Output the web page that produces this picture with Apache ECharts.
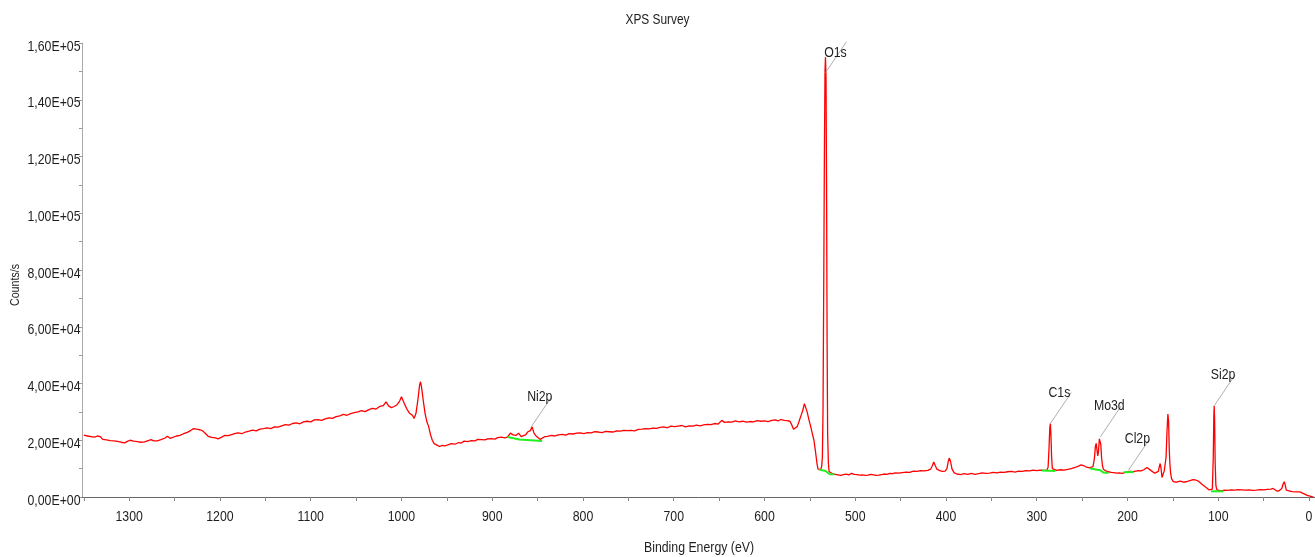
<!DOCTYPE html>
<html>
<head>
<meta charset="utf-8">
<title>XPS Survey</title>
<script src="https://cdn.jsdelivr.net/npm/echarts@6/dist/echarts.min.js"></script>
<style>
  html, body { margin: 0; padding: 0; background: #fff; }
  #chart { width: 1315px; height: 557px; }
</style>
</head>
<body>
<div id="chart"></div>
<script>
// Survey spectrum: [binding energy (eV), counts/s]
const spectrum = [
  [1350,21800],[1346,21500],[1342,21300],[1338,21100],[1335,21500],[1332,21300],[1329,20300],[1325,20100],
  [1321,19900],[1317,19800],[1313,19600],[1309,19300],[1305,19100],[1302,19600],[1299,20000],[1295,19700],
  [1291,19500],[1287,19300],[1283,19400],[1279,19900],[1276,20200],[1273,19800],[1269,19800],[1265,20200],
  [1261,20700],[1258,21400],[1255,20700],[1252,21000],[1248,21500],[1244,21700],[1240,22300],[1236,22800],
  [1232,23500],[1229,24100],[1226,23900],[1222,23700],[1219,23300],[1216,22400],[1213,21400],[1209,21000],
  [1205,20800],[1202,20500],[1198,21100],[1195,21700],[1191,21600],[1187,22000],[1183,22400],[1180,22600],
  [1176,22300],[1172,22900],[1168,23200],[1164,23600],[1160,23300],[1156,23900],[1152,24100],[1148,24400],
  [1144,24100],[1140,24700],[1136,24600],[1132,25100],[1128,25500],[1124,25300],[1120,25900],[1116,26100],
  [1112,25800],[1108,26500],[1104,26700],[1100,26500],[1096,27200],[1092,27300],[1088,27000],[1084,27500],
  [1080,27900],[1076,27700],[1072,28300],[1068,28600],[1064,29100],[1060,28800],[1056,29400],[1052,29700],
  [1048,30000],[1044,30400],[1040,30100],[1036,30800],[1032,31200],[1028,31000],[1024,31900],[1020,32200],
  [1017,33500],[1014,32000],[1011,31500],[1008,31900],[1005,32500],[1002,33800],[1000,35300],[997,33000],
  [994,31000],[991,29500],[988,28800],[986,27700],[984,29500],[982,34000],[980,39500],[979,40600],
  [978,39000],[976,34000],[974,29500],[972,26500],[970,24800],[968,22000],[966,20000],[964,18800],
  [961,18300],[958,17800],[955,18200],[952,18000],[948,18500],[945,18800],[941,18600],[937,19200],
  [934,19000],[931,19700],[927,19500],[923,19900],[919,19800],[916,20300],[912,20200],[908,20100],
  [905,20500],[901,20600],[897,20400],[894,20900],[890,21100],[886,20800],[883,21200],[880,22500],
  [877,21900],[874,21700],[871,22500],[868,21300],[866,20900],[863,22000],[861,22900],[858,23400],
  [856,24700],[854,22500],[852,21600],[850,20900],[847,20300],[845,20700],[842,21300],[839,21400],
  [835,21700],[831,21500],[827,21900],[823,22100],[819,21800],[815,22300],[811,22200],[807,22500],
  [803,22600],[799,22300],[795,22700],[791,22600],[787,23000],[783,22900],[779,22700],[775,23100],
  [771,23000],[767,22900],[763,23300],[759,23200],[755,23500],[751,23400],[747,23500],[743,23300],
  [739,23800],[735,23900],[731,24100],[727,24000],[723,24300],[719,24200],[715,24500],[711,24700],
  [707,24400],[703,25000],[699,24800],[695,25000],[691,25200],[687,24700],[683,25100],[679,25000],
  [675,25300],[671,25100],[667,25400],[663,25600],[659,25500],[655,25900],[651,25700],[647,27000],
  [644,26300],[640,26500],[636,26400],[632,26800],[628,26500],[624,26700],[620,26400],[616,26600],
  [612,26500],[608,26900],[604,26700],[600,26800],[596,26600],[592,27000],[588,27200],[585,26800],
  [582,27300],[578,27000],[575,26900],[572,26700],[570,25500],[568,23900],[566,24300],[564,24800],
  [562,26500],[560,28500],[558,30300],[556,32900],[554.5,33200],[553,30000],[551,27200],[549,24700],
  [547,22000],[545.5,20000],[544,16500],[543,14000],[542,11500],[541,9800],[539.5,9600],[538,9700],
  [537,10800],[536.2,14000],[535.5,30000],[534.7,75000],[534,120000],[533.3,150000],[532.8,155000],
  [532.2,148000],[531.6,110000],[531,55000],[530.4,22000],[529.6,12000],[528.8,9000],[527.5,8500],
  [525,8200],[522,8000],[519,7800],[516,7600],[513,7900],[510,8100],[507,7800],[504,8300],
  [501,8000],[498,7900],[495,7700],[492,7800],[489,7600],[486,7700],[483,8000],[480,7800],
  [477,7600],[474,7700],[471,7900],[468,8100],[465,8000],[462,8300],[459,8200],[456,8500],
  [452,8400],[448,8600],[444,8800],[440,8700],[436,9100],[432,9000],[428,9300],[424,9200],
  [420,9400],[417,9800],[415,11000],[413.5,12300],[412,11200],[410,9800],[407,9300],[404,9000],
  [401,9100],[399,10000],[397.5,12500],[396.5,13700],[395,12600],[393.5,10000],[391,8500],[388,8100],
  [384,7900],[380,8200],[376,8000],[372,8300],[368,8000],[364,8200],[360,8500],[356,8300],
  [352,8400],[348,8700],[344,8500],[340,8800],[336,8700],[332,8900],[328,9000],[324,8800],
  [320,9100],[316,9000],[312,9300],[308,9200],[304,9500],[300,9300],[296,9500],[292,9400],
  [289,9400],[287.5,10500],[286.5,17000],[285.6,24500],[285,25900],[284.4,22000],[283.6,14000],[282.8,10000],
  [281.5,9500],[278,9400],[274,9600],[270,9500],[266,9700],[262,10000],[258,10400],[254,10900],
  [251,11300],[248,11000],[245,10500],[242,10300],[240,10200],[238,10700],[236.5,13500],[235.3,18000],
  [234.5,18900],[233.6,16500],[232.8,14500],[232,16000],[231,20500],[230.2,21200],[229.4,18500],[228.6,14000],
  [227.6,11000],[226.5,9800],[224,9200],[221,8900],[218,8700],[215,8600],[212,8400],[209,8500],
  [206,8300],[203,8600],[200,8900],[198.5,9400],[197,9000],[194,8900],[191,9100],[188,9300],
  [185,9200],[182,9600],[180,10000],[178.5,10400],[176.5,9800],[174,9300],[172,8800],[170,8400],
  [168,8200],[166,9000],[165,10600],[164,11800],[163,10000],[162,6900],[161.5,6500],[160.5,7500],
  [159.5,9200],[158.5,9600],[157.5,14000],[156.5,23000],[155.5,29200],[154.7,26500],[154,17000],[153.3,11800],
  [152.5,8500],[151.5,6500],[149.5,5400],[146,5200],[142,5600],[138,5200],[134,5500],[131,5800],
  [128,6100],[125,6000],[122,5600],[119.5,4900],[117,4200],[114,3500],[112,3000],[110,2500],
  [108,2300],[106.5,2800],[105.5,14000],[104.9,28000],[104.5,32100],[104,27000],[103.4,12000],[102.6,4000],
  [101.5,2500],[99,2300],[96,2200],[93,2400],[90,2300],[86,2500],[82,2400],[78,2600],
  [74,2500],[70,2400],[66,2500],[62,2300],[58,2400],[54,2600],[50,2500],[46,2700],
  [42,2800],[39.5,3000],[37.5,2600],[35.5,2100],[33,2200],[30,3000],[28.5,4600],[27.3,5400],
  [26.3,4300],[25,2400],[23,2000],[21,2100],[18.5,1900],[16.5,1700],[14,1800],[12,1900],
  [10,1800],[8,1500],[6,1200],[4,900],[2,600],[0,300],[-3,100],[-5,0]
];

// Fitted backgrounds under each quantified region
const bgNi2p = [[883,21160],[870,20240],[845,19750]];
const bgO1s  = [[540,9660],[532.7,9170],[528,8000],[523,8000]];
const bgC1s  = [[294.5,9300],[279.6,9200]];
const bgMo3d = [[241,10020],[230,9420],[226.4,8600],[221,8470]];
const bgCl2p = [[204.4,8700],[193.4,8800]];
const bgSi2p = [[108,2000],[94.3,2000]];

// Peak annotations: name, energy and counts of the point the leader line starts from
const peakNames    = ['O1s', 'Ni2p', 'C1s', 'Mo3d', 'Cl2p', 'Si2p'];
const peakEnergies = [532.8, 857.5, 285, 230, 199, 104.6];
const peakCounts   = [149500, 24480, 25890, 21160, 9420, 32100];

// Axis ticks
const xLabelValues = [0,100,200,300,400,500,600,700,800,900,1000,1100,1200,1300];
const xTickValues  = [0,50,100,150,200,250,300,350,400,450,500,550,600,650,700,750,800,850,900,950,1000,1050,1100,1150,1200,1250,1300,1350];
const yTicks       = [0,20000,40000,60000,80000,100000,120000,140000,160000];

const X_MIN = -6.6, X_MAX = 1352;

// Narrow sans: Arial-metric face squeezed horizontally
const FONT = '"Liberation Sans", Arial, sans-serif';
const NARROW = 0.82;
const TEXT = '#1e1e1e';

function sci(v) {
  if (v === 0) return '0,00E+00';
  const e = Math.floor(Math.log10(v) + 1e-9);
  const m = v / Math.pow(10, e);
  return m.toFixed(2).replace('.', ',') + 'E+' + String(e).padStart(2, '0');
}

function narrowText(text, x, y, size, align, extra) {
  return Object.assign({
    type: 'text', x: x, y: y, scaleX: NARROW,
    style: { text: text, x: 0, y: 0, align: align || 'center', verticalAlign: 'middle',
             font: size + 'px ' + FONT, fill: TEXT }
  }, extra || {});
}

// label text placement relative to the leader-line start (pixels)
const labelNudge = { O1s: { dx: 10, dy: -20 } };
const defaultNudge = { dx: 9, dy: -31 };

const bgSeries = [bgNi2p, bgO1s, bgC1s, bgMo3d, bgCl2p, bgSi2p].map(d => ({
  type: 'line', data: d, symbol: 'none', silent: true, z: 3,
  lineStyle: { color: '#22ee22', width: 2 }
}));

const chart = echarts.init(document.getElementById('chart'), null, { renderer: 'canvas' });
chart.setOption({
  animation: false,
  backgroundColor: '#fff',
  grid: { left: 82, right: 0, top: 43, bottom: 60, containLabel: false, outerBoundsMode: 'none' },
  xAxis: {
    type: 'value', inverse: true, min: X_MIN, max: X_MAX,
    axisLine: { onZero: false, lineStyle: { color: '#666', width: 1 } },
    axisTick: { show: true, customValues: xTickValues, length: 4, lineStyle: { color: '#888' } },
    axisLabel: { show: false },
    splitLine: { show: false }
  },
  yAxis: {
    type: 'value', min: 0, max: 160000, interval: 20000, position: 'left',
    axisLine: { show: true, onZero: false, lineStyle: { color: '#aaa', width: 1 } },
    axisTick: { show: true, length: 3, lineStyle: { color: '#999' } },
    minorTick: { show: true, splitNumber: 2, length: 3, lineStyle: { color: '#999' } },
    axisLabel: { show: false },
    splitLine: { show: false }
  },
  graphic: [
    narrowText('XPS Survey', 657.5, 20, 14.5, 'center'),
    narrowText('Binding Energy (eV)', 699, 548, 15, 'center'),
    narrowText('Counts/s', 15, 285, 13, 'center', { rotation: Math.PI / 2 })
  ],
  series: [
    {
      type: 'line', data: spectrum, symbol: 'none', z: 2,
      lineStyle: { color: '#ff0000', width: 1.3 }
    },
    ...bgSeries,
    {
      // binding-energy tick labels
      type: 'custom', z: 6, silent: true, clip: false,
      data: xLabelValues.map(v => [v, 0]),
      renderItem(params, api) {
        const p = api.coord([api.value(0), 0]);
        return narrowText(String(api.value(0)), p[0], p[1] + 20, 15, 'center');
      }
    },
    {
      // counts tick labels
      type: 'custom', z: 6, silent: true, clip: false,
      data: yTicks.map(v => [X_MAX, v]),
      renderItem(params, api) {
        const p = api.coord([X_MAX, api.value(1)]);
        return narrowText(sci(api.value(1)), p[0] - 1.5, p[1] + 3.5, 15, 'right');
      }
    },
    {
      // peak names with leader lines
      type: 'custom', z: 5, silent: true, clip: false,
      data: peakNames.map((n, i) => [peakEnergies[i], peakCounts[i]]),
      renderItem(params, api) {
        const p = api.coord([api.value(0), api.value(1)]);
        const name = peakNames[params.dataIndex];
        const n = labelNudge[name] || defaultNudge;
        return {
          type: 'group',
          children: [
            { type: 'line', shape: { x1: p[0], y1: p[1], x2: p[0] + 21, y2: p[1] - 31 },
              style: { stroke: '#9a9a9a', lineWidth: 0.8 } },
            narrowText(name, p[0] + n.dx, p[1] + n.dy, 15, 'center', { z2: 10 })
          ]
        };
      }
    }
  ]
});
</script>
</body>
</html>
